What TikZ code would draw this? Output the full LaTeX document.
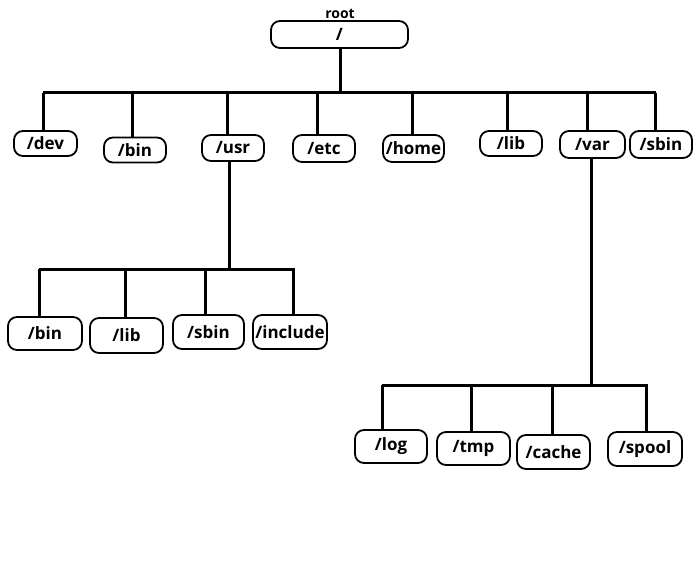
\documentclass[tikz,border=0pt]{standalone}
\usepackage{fontspec}
\setmainfont{Open Sans}
\usepackage{tikz}

\begin{document}
\begin{tikzpicture}[x=1pt,y=-1pt]
    \useasboundingbox (0,0) rectangle (696,564);
    \begin{scope}[every node/.style={draw,rounded corners=9pt,line width=1.8pt,
                  inner sep=0pt,font=\fontsize{17}{19}\selectfont\bfseries}]
        \node[minimum width=137pt,minimum height=27pt] (root) at (339.5,34.5) {/};
        \node[minimum width=63pt,minimum height=25pt] (dev)  at (45.5,143.5) {/dev};
        \node[minimum width=62pt,minimum height=25pt] (bin)  at (135,150)    {/bin};
        \node[minimum width=62pt,minimum height=26pt] (usr)  at (233,148)    {/usr};
        \node[minimum width=62pt,minimum height=27pt] (etc)  at (324,148.5)  {/etc};
        \node[minimum width=61pt,minimum height=27pt] (home) at (413.5,148.5) {/home};
        \node[minimum width=62pt,minimum height=25pt] (lib)  at (511,143.5)  {/lib};
        \node[minimum width=65pt,minimum height=27pt] (var)  at (592.5,144.5) {/var};
        \node[minimum width=62pt,minimum height=27pt] (sbin) at (661,144.5)  {/sbin};
        % below /usr
        \node[minimum width=74pt,minimum height=33pt] (usrbin)  at (45,333.5)  {/bin};
        \node[minimum width=73pt,minimum height=35pt] (usrlib)  at (126.5,335.5) {/lib};
        \node[minimum width=71pt,minimum height=34pt] (usrsbin) at (208.5,332) {/sbin};
        \node[minimum width=74pt,minimum height=34pt] (usrinc)  at (290,332)   {/include};
        % below /var
        \node[minimum width=72pt,minimum height=33pt] (varlog)   at (391,446.5)  {/log};
        \node[minimum width=73pt,minimum height=33pt] (vartmp)   at (473.5,448.5) {/tmp};
        \node[minimum width=73pt,minimum height=34pt] (varcache) at (553.5,452)  {/cache};
        \node[minimum width=74pt,minimum height=34pt] (varspool) at (645,449)    {/spool};
    \end{scope}

    \node[font=\fontsize{14}{16}\selectfont\bfseries,inner sep=0pt] (rootname) at (340,14) {root};

    \begin{scope}[every path/.style={draw=black,line width=3pt}]
        % main bus
        \coordinate (busL) at (43,93);
        \coordinate (busR) at (656,93);
        \path (root.south -| 340,0) -- (340,93);
        \path (busL) -- (busR);
        \foreach \n/\x in {dev/43,bin/132,usr/227,etc/317,home/412,lib/507,var/587,sbin/655}
            \path (\x,93) -- (\x,0 |- \n.north);

        % bus below /usr
        \coordinate (usrL) at (39,269);
        \coordinate (usrR) at (295,269);
        \path (usr.south -| 229,0) -- (229,269);
        \path (usrL) -- (usrR);
        \foreach \n/\x in {usrbin/39,usrlib/125,usrsbin/205,usrinc/293}
            \path (\x,269) -- (\x,0 |- \n.north);

        % bus below /var
        \coordinate (varL) at (382,385);
        \coordinate (varR) at (648,385);
        \path (var.south -| 591,0) -- (591,385);
        \path (varL) -- (varR);
        \foreach \n/\x in {varlog/382,vartmp/471,varcache/552,varspool/646}
            \path (\x,385) -- (\x,0 |- \n.north);
    \end{scope}
\end{tikzpicture}
\end{document}
